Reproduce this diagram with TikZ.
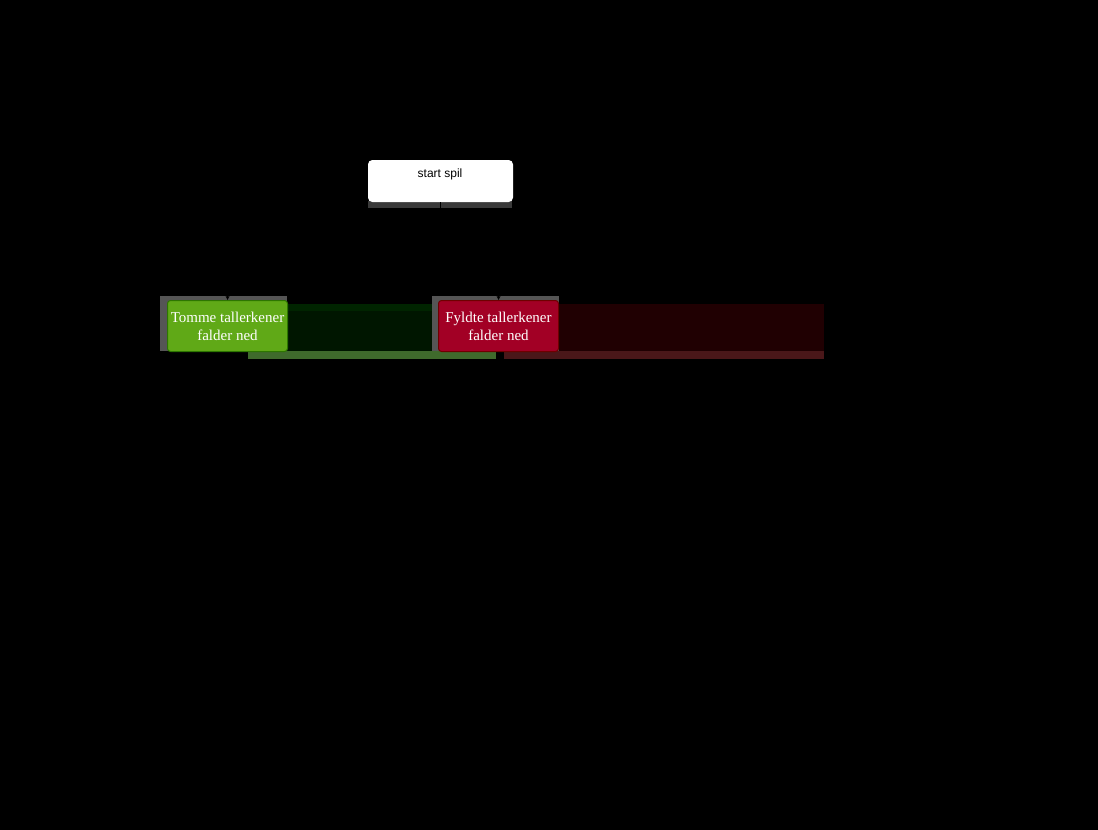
\documentclass[tikz,border=0pt]{standalone}
\usepackage{fontspec}
\setmainfont{Liberation Serif}
\newfontfamily\arialfont{Liberation Sans}
\usepackage{tikz}
\definecolor{plategreen}{HTML}{60A917}
\definecolor{plategreenline}{HTML}{2D7600}
\definecolor{platered}{HTML}{A20025}
\definecolor{plateredline}{HTML}{6F0000}
\definecolor{shadowgrey}{HTML}{555555}
\definecolor{bargrey}{HTML}{3A3A3A}
\definecolor{greenband}{HTML}{001600}
\definecolor{greenstrip}{HTML}{002400}
\definecolor{greenbar}{HTML}{3F6A2C}
\definecolor{redband}{HTML}{200002}
\definecolor{redbar}{HTML}{4A1719}

\begin{document}
\begin{tikzpicture}[x = 1pt, y = -1pt, line width = 1pt,
                        startbox/.style = {rectangle, rounded corners = 4pt, fill = white, draw = white, minimum width = 144pt, minimum height = 41pt, anchor = north west, inner sep = 0pt},
                        platebox/.style = {rectangle, rounded corners = 3pt, minimum width = 120pt, minimum height = 51pt, anchor = north west, text = white, align = center, font = \fontsize{15}{18}\selectfont, inner sep = 0pt},
                        flow/.style = {->, >=stealth, black, line width = 1pt}]
      \useasboundingbox (0, 0) rectangle (1098, 830);
      \fill [black] (0, 0) rectangle (1098, 830);
      % bands behind the plates
      \fill [bargrey] (368, 201) rectangle (512, 208);
      \fill [shadowgrey] (160, 296) rectangle (287, 351);
      \fill [greenband] (287, 304) rectangle (432, 351);
      \fill [greenstrip] (287, 304) rectangle (432, 311);
      \fill [greenbar] (248, 351) rectangle (496, 359);
      \fill [shadowgrey] (432, 296) rectangle (559, 351);
      \fill [redband] (559, 304) rectangle (824, 351);
      \fill [redbar] (504, 351) rectangle (824, 359);
      % nodes
      \node [startbox] (start) at (368, 160){};
      \node [font = \arialfont\fontsize{12}{14}\selectfont, anchor = north] (startlabel) at (440, 165){start spil};
      \node [platebox, fill = plategreen, draw = plategreenline] (tomme) at (167, 300){Tomme tallerkener\\falder ned};
      \node [platebox, fill = platered, draw = plateredline] (fyldte) at (438, 300){Fyldte tallerkener\\falder ned};
      % connectors
      \draw [flow] (start.south) |- ++(0, 40) -| (tomme.north);
      \draw [flow] (start.south) |- ++(0, 40) -| (fyldte.north);
    \end{tikzpicture}
\end{document}
